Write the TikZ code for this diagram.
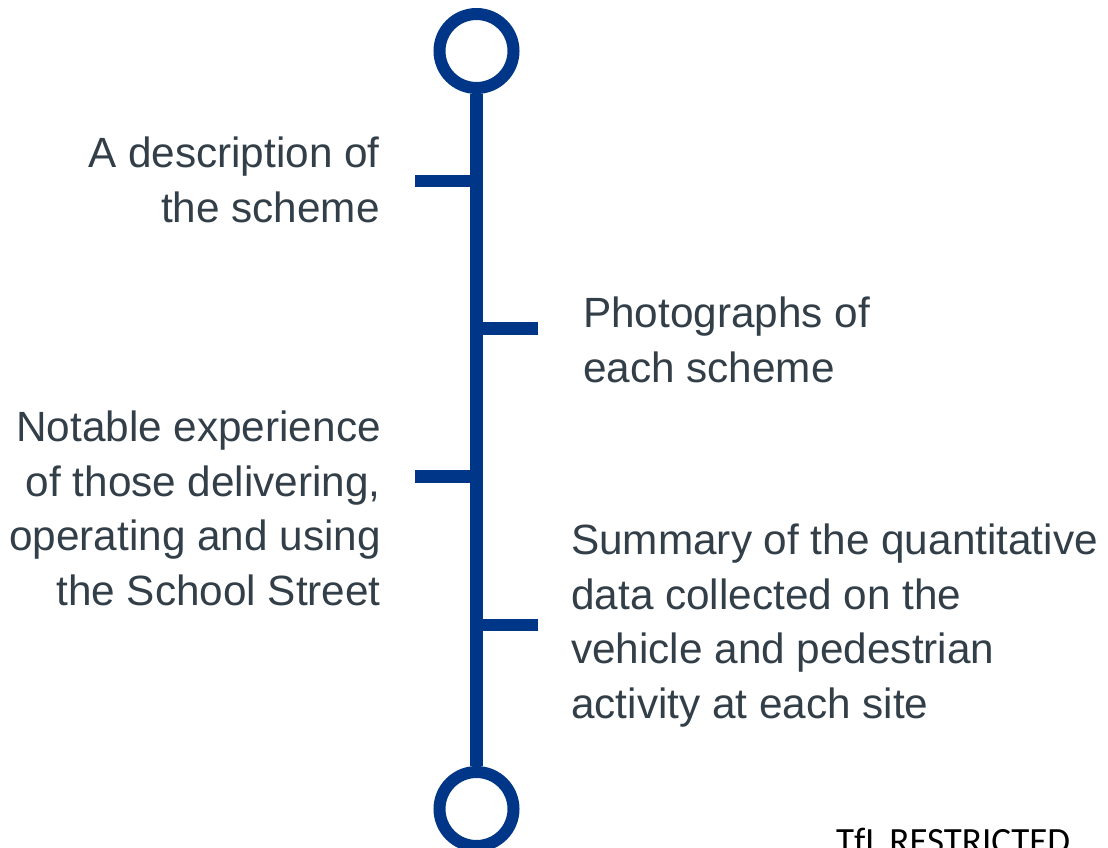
\documentclass[tikz,border=0pt]{standalone}
\usepackage{fontspec}
\setmainfont{Liberation Sans}
\newfontfamily\calib{Carlito}
\definecolor{tlblue}{HTML}{003688}
\definecolor{tltext}{HTML}{333F48}
\begin{document}
\begin{tikzpicture}[x=1pt,y=-1pt,
  ring/.style={circle,draw=tlblue,line width=12pt,minimum size=74pt,inner sep=0pt},
  spine/.style={draw=tlblue,line width=12.5pt},
  tick/.style={draw=tlblue,line width=12.5pt},
  lbl/.style={text=tltext,inner sep=0pt,font=\fontsize{42.3}{54.5}\selectfont},
  lblL/.style={lbl,align=right,anchor=base east},
  lblR/.style={lbl,align=left,anchor=base west}]
\useasboundingbox (0,0) rectangle (1108,848);
\fill[white] (0,0) rectangle (1108,848);
\node[ring] (top) at (476.5,51) {};
\node[ring] (bot) at (476.5,809) {};
\draw[spine] (top.south) -- (bot.north);
\coordinate (a1) at (476.5,181);  \coordinate (a1e) at (415,181);
\coordinate (a2) at (476.5,328.5);\coordinate (a2e) at (538,328.5);
\coordinate (a3) at (476.5,476.5);\coordinate (a3e) at (415,476.5);
\coordinate (a4) at (476.5,625);  \coordinate (a4e) at (538,625);
\draw[tick] (a1e) -- (a1);
\draw[tick] (a2) -- (a2e);
\draw[tick] (a3e) -- (a3);
\draw[tick] (a4) -- (a4e);
\node[lblL] (d1) at (380,222) {A description of\\the scheme};
\node[lblR] (d2) at (583,382) {Photographs of\\each scheme};
\node[lblL] (d3) at (381,605) {Notable experience\\of those delivering,\\operating and using\\the School Street\hspace{11pt}};
\node[lblR] (d4) at (571,718) {Summary of the quantitative\\data collected on the\\vehicle and pedestrian\\activity at each site};
\node[inner sep=0pt,anchor=base west,font=\calib\fontsize{37}{40}\selectfont] (tfl) at (836,853) {TfL RESTRICTED};
\end{tikzpicture}
\end{document}
